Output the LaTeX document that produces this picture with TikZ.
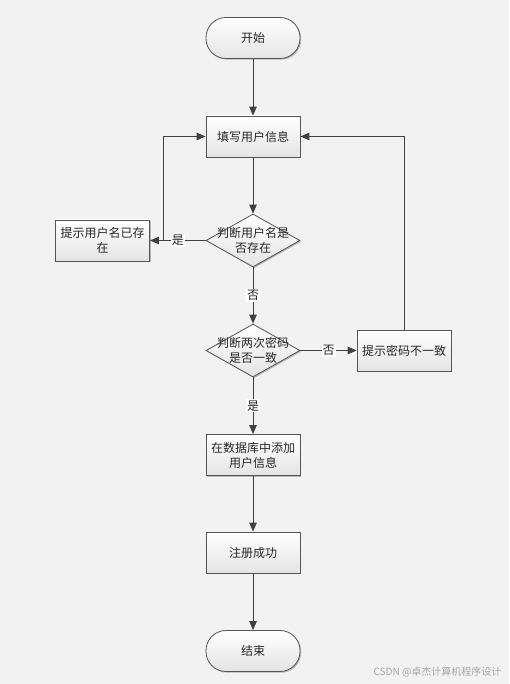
\documentclass[tikz,border=0pt]{standalone}
\usepackage{fontspec}
\newfontfamily\cjk{Noto Sans CJK SC}
\usetikzlibrary{shapes.geometric,arrows.meta,shadows}
\definecolor{bg}{HTML}{F2F2F2}
\definecolor{ln}{HTML}{404040}
\definecolor{bd}{HTML}{555555}
\definecolor{sh}{HTML}{E4E4E4}
\tikzset{
  base/.style={draw=bd, line width=0.8pt, top color=white, bottom color=sh,
    drop shadow={shadow xshift=1.2pt, shadow yshift=-1.2pt, opacity=0.25, fill=black},
    font=\cjk\fontsize{12}{15}\selectfont, text=black!85, align=center},
  box/.style={base, rectangle, minimum width=94pt, minimum height=41pt, inner sep=2pt},
  term/.style={base, rectangle, rounded corners=20pt, minimum width=94pt, minimum height=41pt},
  dia/.style={base, diamond, inner sep=0pt, minimum width=94pt, minimum height=53pt},
  dtext/.style={font=\cjk\fontsize{12}{15}\selectfont, text=black!85, align=center, inner sep=0pt},
  arr/.style={draw=ln, line width=1pt, -{Triangle[length=9pt,width=7.5pt]}},
  lbl/.style={fill=white, inner sep=1pt, font=\cjk\fontsize{12}{14}\selectfont, text=black!85},
}
\begin{document}
\begin{tikzpicture}[x=1pt,y=-1pt]
\fill[bg] (0,0) rectangle (509,684);
\useasboundingbox (0,0) rectangle (509,684);

\node[term] (start) at (253,38) {开始};
\node[box] (fill) at (253,136.5) {填写用户信息};
\node[dia] (d1) at (253,240.5) {};
\node[dtext] (d1t) at (253,240.5) {判断用户名是\\否存在};
\node[box] (ex) at (102.5,240.5) {提示用户名已存\\在};
\node[dia] (d2) at (253,350.5) {};
\node[dtext] (d2t) at (253,350.5) {判断两次密码\\是否一致};
\node[box] (pw) at (404,350.5) {提示密码不一致};
\node[box] (db) at (253,455) {在数据库中添加\\用户信息};
\node[box] (ok) at (253,552.5) {注册成功};
\node[term] (end) at (253,651) {结束};

\coordinate (loopL) at (163,240.5);

\draw[arr] (start.south) -- (fill.north);
\draw[arr] (fill.south) -- (d1.north);
\draw[arr] (d1.west) -- node[lbl] {是} (ex.east);
\draw[arr] (loopL) |- (fill.west);
\draw[arr] (d1.south) -- node[lbl] {否} (d2.north);
\draw[arr] (d2.east) -- node[lbl] {否} (pw.west);
\draw[arr] (pw.north) |- (fill.east);
\draw[arr] (d2.south) -- node[lbl] {是} (db.north);
\draw[arr] (db.south) -- (ok.north);
\draw[arr] (ok.south) -- (end.north);

\node[font=\cjk\fontsize{10}{12}\selectfont, text=black!35, anchor=east] (wm) at (505,672) {CSDN @卓杰计算机程序设计};
\end{tikzpicture}
\end{document}
